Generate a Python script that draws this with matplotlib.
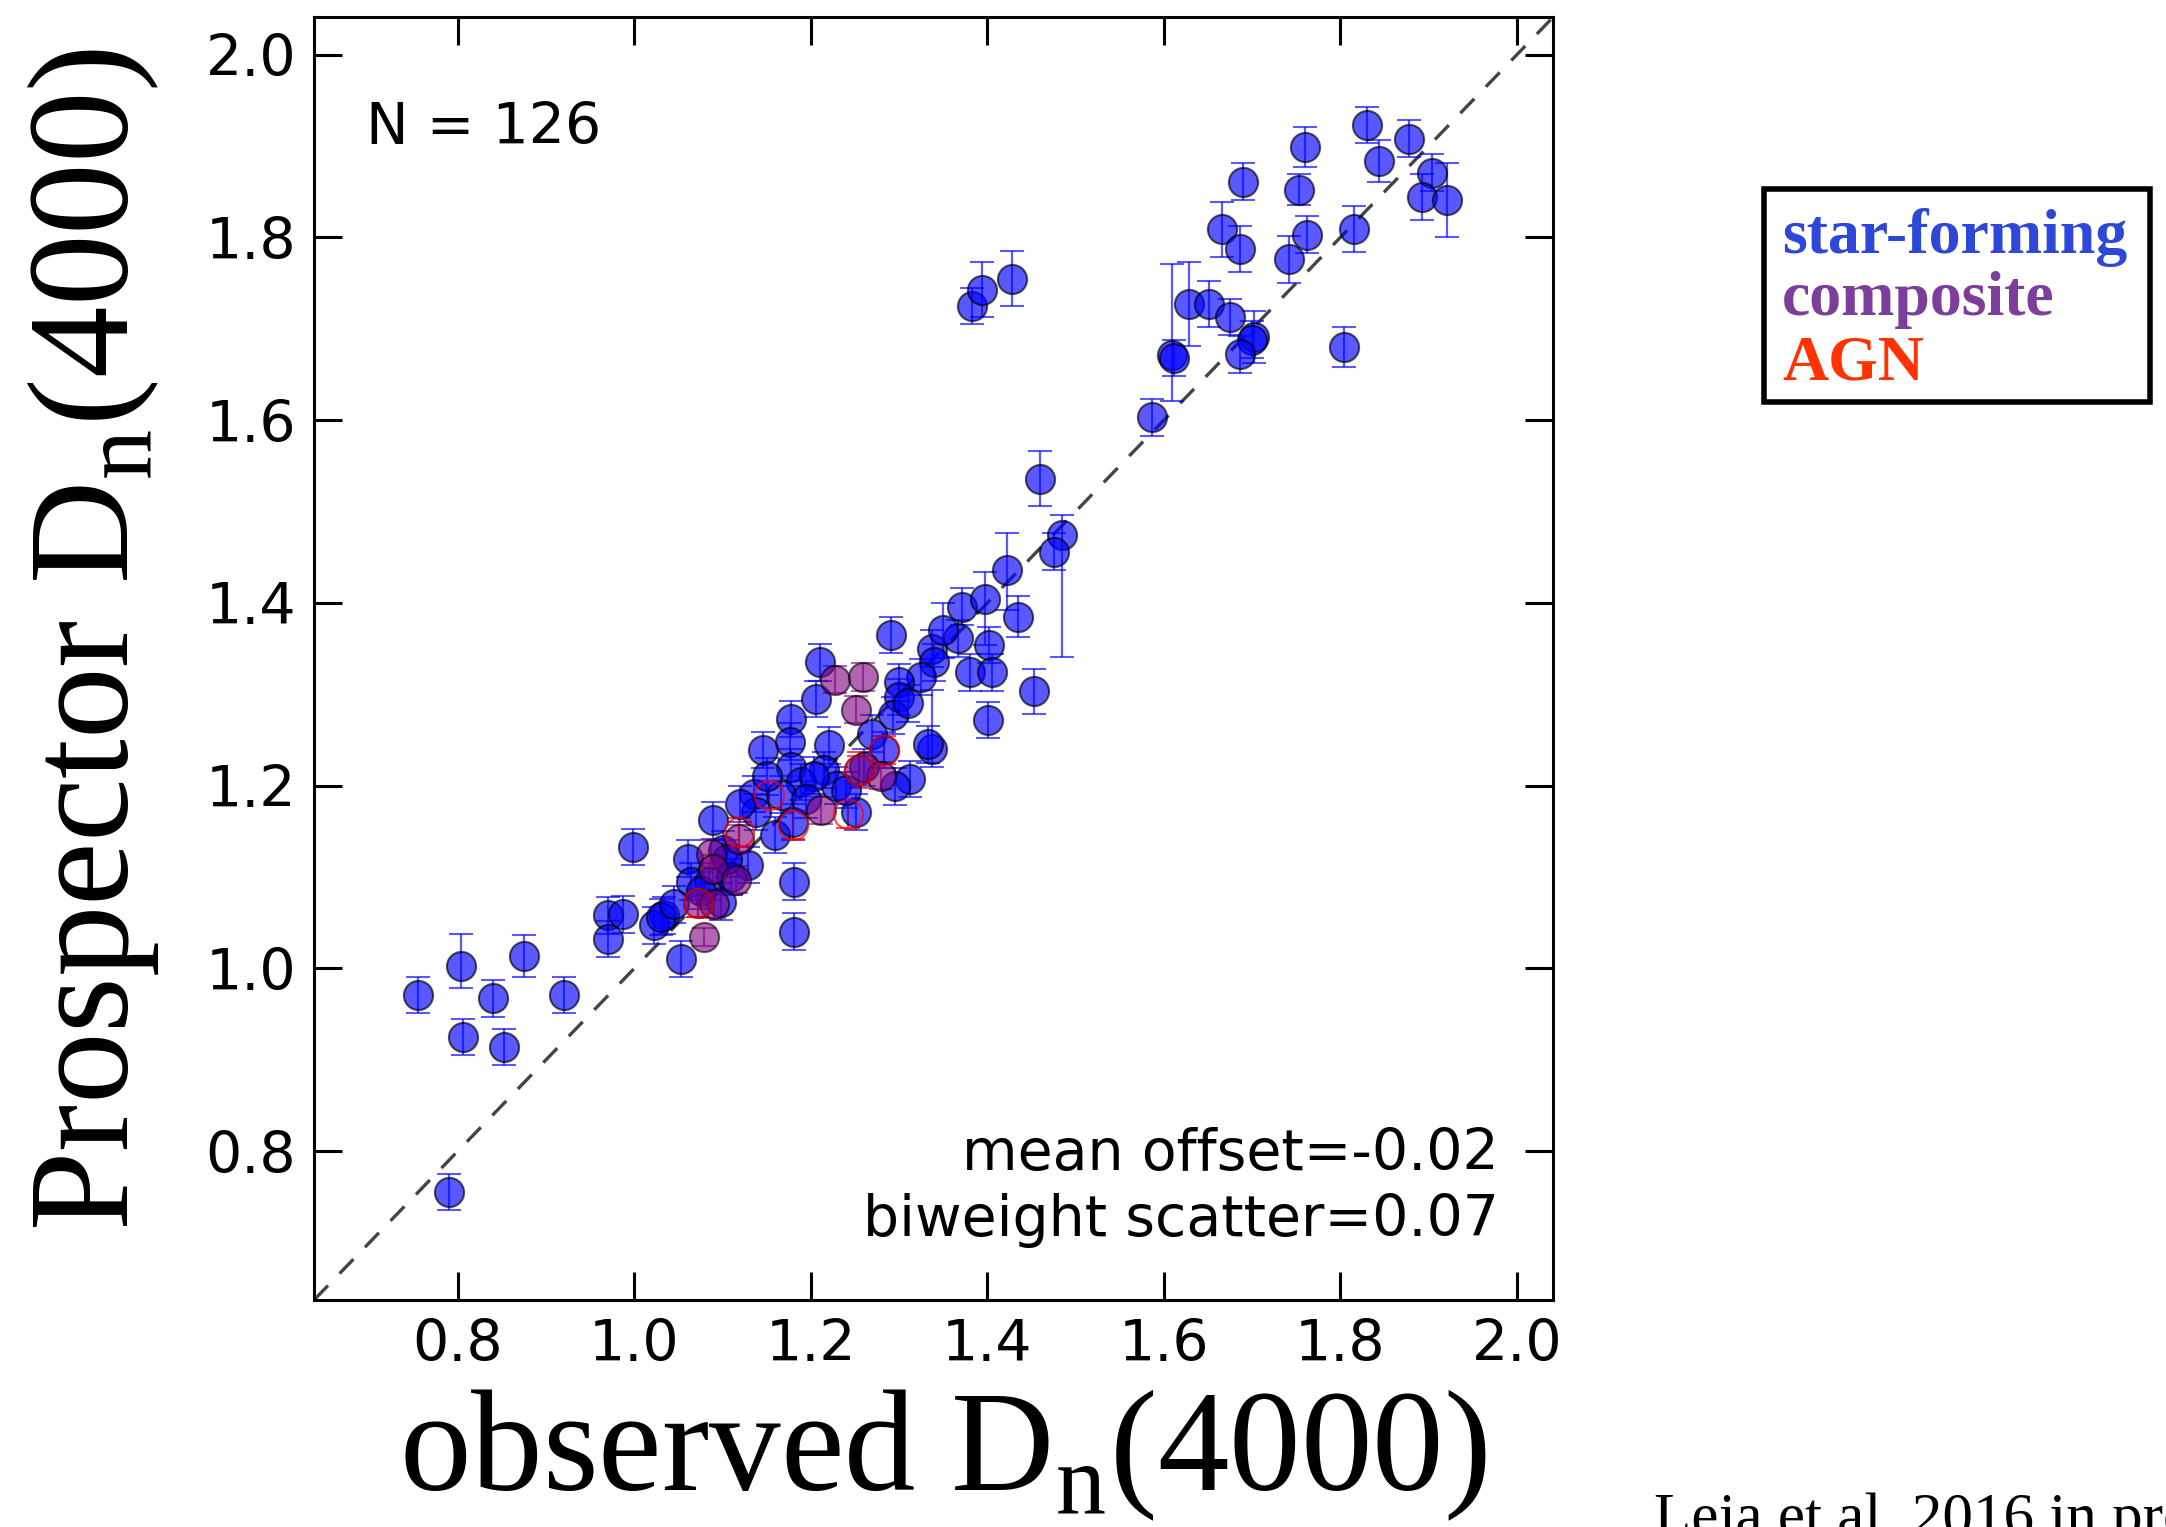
import numpy as np
import matplotlib
matplotlib.use('Agg')
from matplotlib import pyplot as plt
from matplotlib.patches import Rectangle

plt.rcParams['mathtext.fontset'] = 'custom'
plt.rcParams['mathtext.rm'] = 'Liberation Serif'

# star-forming galaxies: observed Dn(4000), Prospector Dn(4000), lower / upper error
sf_x = [1.830, 1.878, 1.844, 1.904, 1.893, 1.921, 1.760, 1.690, 1.753, 1.762,
        1.666, 1.686, 1.742, 1.815, 1.804, 1.628, 1.651, 1.675, 1.702, 1.700,
        1.686, 1.609, 1.611, 1.586, 1.383, 1.394, 1.428, 1.460, 1.484, 1.475,
        1.422, 1.435, 1.371, 1.397, 1.402, 1.367, 1.337, 1.340, 1.380, 1.405,
        1.401, 1.453, 1.337, 1.333, 1.291, 1.210, 1.206, 1.325, 1.300, 1.300,
        1.293, 1.269, 1.283, 1.312, 1.295, 1.178, 1.176, 1.221, 1.178, 1.215,
        1.189, 1.229, 1.251, 1.146, 1.136, 1.138, 1.159, 1.089, 1.129, 1.061,
        1.064, 1.084, 1.098, 1.034, 1.022, 1.053, 0.998, 1.181, 1.181, 0.970,
        0.987, 0.970, 0.755, 0.803, 0.840, 0.875, 0.920, 0.806, 0.852, 0.790,
        1.030, 1.204, 1.166, 1.180, 1.045, 1.100, 1.110, 1.150, 1.120, 1.260,
        1.310, 1.350, 1.105, 1.195, 1.240, 1.075]
sf_y = [1.923, 1.908, 1.884, 1.871, 1.844, 1.841, 1.899, 1.861, 1.852, 1.803,
        1.809, 1.787, 1.776, 1.809, 1.680, 1.727, 1.727, 1.713, 1.691, 1.688,
        1.672, 1.671, 1.668, 1.603, 1.725, 1.743, 1.755, 1.536, 1.474, 1.456,
        1.436, 1.385, 1.396, 1.404, 1.354, 1.361, 1.350, 1.335, 1.324, 1.324,
        1.272, 1.303, 1.240, 1.245, 1.365, 1.335, 1.295, 1.319, 1.313, 1.297,
        1.277, 1.257, 1.239, 1.207, 1.199, 1.273, 1.248, 1.244, 1.220, 1.217,
        1.204, 1.200, 1.171, 1.239, 1.191, 1.171, 1.146, 1.162, 1.113, 1.120,
        1.095, 1.095, 1.073, 1.058, 1.047, 1.010, 1.133, 1.095, 1.040, 1.058,
        1.059, 1.032, 0.971, 1.002, 0.967, 1.013, 0.971, 0.925, 0.914, 0.755,
        1.056, 1.211, 1.190, 1.160, 1.070, 1.130, 1.100, 1.210, 1.180, 1.220,
        1.290, 1.370, 1.120, 1.185, 1.195, 1.085]
sf_elo = [0.020, 0.020, 0.023, 0.020, 0.025, 0.041, 0.022, 0.020, 0.017, 0.020,
          0.030, 0.025, 0.026, 0.025, 0.022, 0.046, 0.025, 0.020, 0.028, 0.020,
          0.020, 0.050, 0.020, 0.020, 0.020, 0.030, 0.030, 0.030, 0.133, 0.020,
          0.044, 0.022, 0.020, 0.050, 0.020, 0.020, 0.020, 0.020, 0.020, 0.020,
          0.020, 0.025, 0.020, 0.020, 0.020, 0.020, 0.020, 0.020, 0.020, 0.020,
          0.020, 0.020, 0.020, 0.020, 0.020, 0.020, 0.020, 0.020, 0.020, 0.020,
          0.020, 0.020, 0.020, 0.020, 0.020, 0.020, 0.020, 0.020, 0.020, 0.020,
          0.020, 0.020, 0.020, 0.020, 0.020, 0.020, 0.020, 0.020, 0.020, 0.020,
          0.020, 0.020, 0.020, 0.024, 0.020, 0.023, 0.020, 0.020, 0.020, 0.020,
          0.020, 0.020, 0.020, 0.020, 0.020, 0.020, 0.020, 0.020, 0.020, 0.020,
          0.020, 0.030, 0.020, 0.020, 0.020, 0.020]
sf_ehi = [0.020, 0.020, 0.023, 0.020, 0.025, 0.041, 0.022, 0.020, 0.017, 0.020,
          0.030, 0.025, 0.026, 0.025, 0.022, 0.046, 0.025, 0.020, 0.028, 0.020,
          0.020, 0.100, 0.020, 0.020, 0.020, 0.030, 0.030, 0.030, 0.022, 0.020,
          0.041, 0.022, 0.020, 0.030, 0.020, 0.020, 0.020, 0.020, 0.020, 0.020,
          0.020, 0.025, 0.065, 0.020, 0.020, 0.020, 0.020, 0.020, 0.020, 0.020,
          0.020, 0.020, 0.020, 0.020, 0.020, 0.020, 0.020, 0.020, 0.020, 0.020,
          0.020, 0.020, 0.020, 0.020, 0.020, 0.020, 0.020, 0.020, 0.020, 0.020,
          0.020, 0.020, 0.020, 0.020, 0.020, 0.020, 0.020, 0.020, 0.020, 0.020,
          0.020, 0.020, 0.020, 0.036, 0.020, 0.023, 0.020, 0.020, 0.020, 0.020,
          0.020, 0.020, 0.020, 0.020, 0.020, 0.020, 0.020, 0.020, 0.020, 0.020,
          0.020, 0.030, 0.020, 0.020, 0.020, 0.020]

# composite galaxies
comp_x = [1.227, 1.259, 1.251, 1.280, 1.255, 1.212, 1.119, 1.087, 1.089, 1.115,
          1.090, 1.079, 1.072]
comp_y = [1.316, 1.319, 1.283, 1.211, 1.217, 1.173, 1.142, 1.125, 1.109, 1.097,
          1.070, 1.034, 1.071]
comp_err = [0.015, 0.015, 0.015, 0.015, 0.015, 0.015, 0.015, 0.015, 0.015, 0.015,
            0.015, 0.010, 0.015]

# AGN
agn_x = [1.283, 1.255, 1.242, 1.180, 1.153, 1.119, 1.072]
agn_y = [1.239, 1.217, 1.169, 1.157, 1.190, 1.149, 1.071]
agn_err = [0.015, 0.020, 0.015, 0.015, 0.015, 0.015, 0.015]

n_obj = 126
mean_offset = -0.02
bw_scatter = 0.07
lims = (0.637, 2.041)
ticks = [0.8, 1.0, 1.2, 1.4, 1.6, 1.8, 2.0]

fig = plt.figure(figsize=(21.66, 15.27), dpi=100)
ax = fig.add_axes([0.145, 0.1487, 0.572, 0.840])

ebkw = dict(fmt='o', ms=21, mec='black', mew=1.5, elinewidth=1.6,
            capsize=8.5, capthick=1.6)
ax.errorbar(sf_x, sf_y, yerr=[sf_elo, sf_ehi], color='blue', mfc='blue',
            alpha=0.65, **ebkw)
ax.errorbar(comp_x, comp_y, yerr=comp_err, color='purple', mfc='purple',
            alpha=0.6, **ebkw)
ax.errorbar(agn_x, agn_y, yerr=agn_err, color='red', mfc='none',
            alpha=0.7, **dict(ebkw, mec='red'))

ax.plot(lims, lims, color='#444444', lw=2.4, linestyle=(0, (6, 5)), zorder=0)

ax.set_xlim(lims)
ax.set_ylim(lims)
ax.set_xticks(ticks)
ax.set_yticks(ticks)
ax.tick_params(direction='in', length=20, width=2.2, labelsize=41, pad=13,
               top=True, right=True)
for s in ax.spines.values():
    s.set_linewidth(2.2)

ax.text(0.042, 0.901, f'N = {n_obj}', transform=ax.transAxes, fontsize=41,
        va='baseline')
ax.text(0.956, (1300 - 1170) / 1283, f'mean offset={mean_offset:.2f}',
        transform=ax.transAxes, fontsize=41, ha='right', va='baseline')
ax.text(0.956, (1300 - 1236) / 1283, f'biweight scatter={bw_scatter:.2f}',
        transform=ax.transAxes, fontsize=41, ha='right', va='baseline')

serif = 'Liberation Serif'
fig.text(943 / 2166, 1 - 1490 / 1527, r'observed D$_{\rm n}$(4000)',
         family=serif, fontsize=103, ha='center', va='baseline')
fig.text(93 / 2166, 1 - 640 / 1527, r'Prospector D$_{\rm n}$(4000)',
         family=serif, fontsize=103, ha='center', va='center', rotation=90)

# legend box
fig.patches.append(Rectangle((1764 / 2166, 1 - 402 / 1527), 386 / 2166, 213 / 1527,
                             transform=fig.transFigure, fill=True, fc='white',
                             ec='black', lw=4))
for label, col, base in [('star-forming', '#2d47d9', 253),
                         ('composite', '#7b3f9b', 315),
                         ('AGN', '#ff3300', 380)]:
    fig.text(1782 / 2166, 1 - base / 1527, label, family=serif, weight='bold',
             color=col, fontsize=46, va='baseline')

# citation, cut off by the lower edge as in the slide
fig.text(1654 / 2166, 1 - 1535 / 1527, 'Leja et al. 2016 in prep.',
         family=serif, fontsize=44, va='baseline')

fig.savefig('out.png', dpi=100)
